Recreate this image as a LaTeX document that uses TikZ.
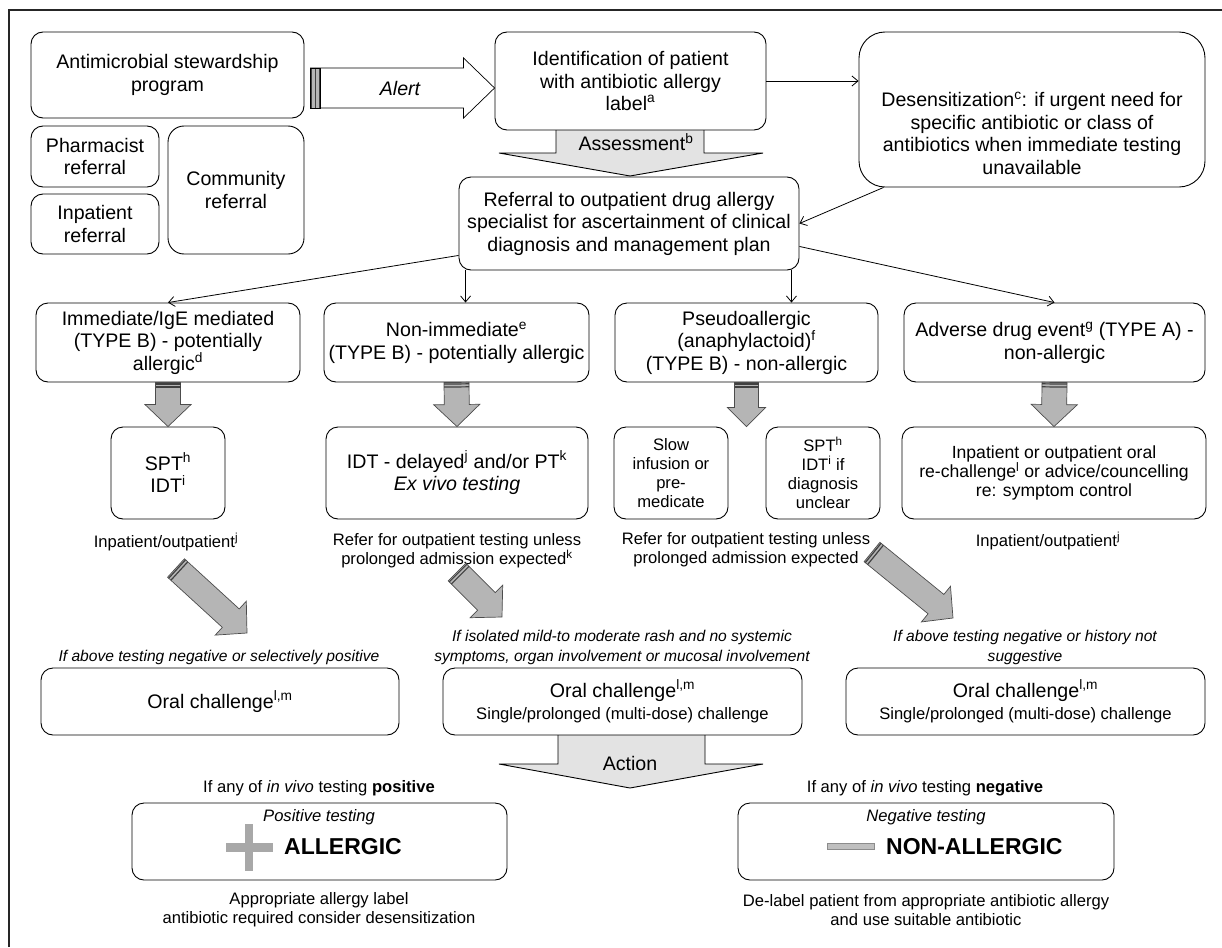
\documentclass[tikz,border=0pt]{standalone}
\usepackage{fontspec}
\setmainfont{Liberation Sans}
\usetikzlibrary{calc,arrows.meta}
\definecolor{arrgray}{HTML}{B5B5B5}
\definecolor{lightfill}{HTML}{E3E3E3}
\definecolor{signgray}{HTML}{A8A8A8}
\newcommand\mainsz{\fontsize{19.6}{22.5}\selectfont}
\newcommand\secsz{\fontsize{16.6}{19}\selectfont}
\newcommand\midsz{\fontsize{17.6}{19}\selectfont}
\newcommand\itsz{\fontsize{15.6}{20}\selectfont\itshape}
\newcommand\bigbf{\fontsize{23}{26}\selectfont\bfseries}
% fat block arrow: [style]{from}{to}{half shaft}{half head}{head length}
\newcommand\fatarr[6][]{%
  \coordinate (fa1) at (#2); \coordinate (fa2) at (#3);
  \coordinate (fac) at ($(fa2)!#6!(fa1)$);
  \filldraw[fatarrow,#1] ($(fa1)!#4!90:(fa2)$) -- ($(fac)!#4!90:(fa2)$) -- ($(fac)!#5!90:(fa2)$) -- (fa2)
     -- ($(fac)!#5!-90:(fa2)$) -- ($(fac)!#4!-90:(fa2)$) -- ($(fa1)!#4!-90:(fa2)$) -- cycle;
}
% stripes across the tail: {from}{to}{half shaft}{list of distances}
\newcommand\tailstripes[4]{%
  \coordinate (ts1) at (#1); \coordinate (ts2) at (#2);
  \foreach \d in {#4} {
    \coordinate (tsp) at ($(ts1)!\d pt!(ts2)$);
    \draw[stripe] ($(tsp)!#3!90:(ts2)$) -- ($(tsp)!#3!-90:(ts2)$);
  }
}
\begin{document}
\begin{tikzpicture}[x=1pt,y=-1pt,
  box/.style={draw=black, line width=0.9pt, rounded corners=12pt, align=center, inner sep=0pt, font=\mainsz},
  sz/.style 2 args={minimum width=#1pt, minimum height=#2pt},
  conn/.style={line width=0.8pt, -{Straight Barb[length=6pt,width=10pt]}},
  txt/.style={align=center, inner sep=0pt},
  fatarrow/.style={fill=arrgray, draw=black!70, line width=0.7pt, line join=miter},
  stripe/.style={draw=black!75, line width=1.2pt},
  bigarrow/.style={fill=lightfill, draw=black, line width=0.9pt, line join=miter}]
\useasboundingbox (0,0) rectangle (1222,947);
\draw[line width=1.8pt, black!85] (9,947) -- (9,10) -- (1222,10);

% big light block arrows
\filldraw[bigarrow] (556,130) -- (556,153) -- (499,153) -- (630,176) -- (763,153) -- (704,153) -- (704,130);
\filldraw[bigarrow] (558,735) -- (558,764) -- (499,764) -- (630,788) -- (763,764) -- (705,764) -- (705,735);

% top row
\node[box, sz={273}{86}] (amsp) at (167.5,75) {Antimicrobial stewardship\\program};
\node[box, sz={128}{61}] (pharm) at (95,156.5) {Pharmacist\\referral};
\node[box, sz={128}{60}] (inpref) at (95,224) {Inpatient\\referral};
\node[box, sz={136}{128}, rounded corners=16pt] (comm) at (236,190) {Community\\referral};
\node[box, sz={271}{98}] (ident) at (630.5,81) {Identification of patient\\with antibiotic allergy\\label\textsuperscript{a}};
\node[box, sz={346}{155}, rounded corners=26pt] (desens) at (1032,109.5) {};
\node[txt, font=\mainsz] (desenstxt) at (1032,133) {Desensitization\textsuperscript{c}: if urgent need for\\specific antibiotic or class of\\antibiotics when immediate testing\\unavailable};
\node[txt, font=\mainsz] (assess) at (636,142) {Assessment\textsuperscript{b}};
\node[box, sz={340}{93}] (ref) at (629,223.5) {Referral to outpatient drug allergy\\specialist for ascertainment of clinical\\diagnosis and management plan};

% alert block arrow
\coordinate (alA) at ($(amsp.east)+(6,13)$);
\coordinate (alB) at (alA -| ident.west);
\fatarr[fill=white, draw=black]{alA}{alB}{20pt}{30pt}{31pt}
\fill[arrgray] ($(alA)+(0,-20)$) rectangle ($(alA)+(10,20)$);
\tailstripes{alA}{alB}{20pt}{1,5,9}
\draw[line width=0.7pt] ($(alA)+(0,-20)$) rectangle ($(alA)+(10,20)$);
\node[txt, font=\mainsz\itshape] (alert) at (400,88) {Alert};

% categories
\node[box, sz={264}{79}] (imm) at (168,342.5) {Immediate/IgE mediated\\(TYPE B) - potentially\\allergic\textsuperscript{d}};
\node[box, sz={265}{79}] (nonimm) at (456.5,342.5) {Non-immediate\textsuperscript{e}\\(TYPE B) - potentially allergic};
\node[box, sz={263}{79}] (pseudo) at (746.5,342.5) {Pseudoallergic\\(anaphylactoid)\textsuperscript{f}\\(TYPE B) - non-allergic};
\node[box, sz={301}{79}] (adv) at (1054.5,342.5) {Adverse drug event\textsuperscript{g} (TYPE A) -\\non-allergic};

% thin connectors
\draw[conn] (ident.east) -- (ident.east -| desens.west);
\draw[conn] ($(desens.south west)+(25,0)$) -- (ref.east);
\draw[conn] ($(ref.south west)+(0,-15)$) -- (imm.north);
\coordinate (r1) at ($(ref.south west)+(7,0)$);
\draw[conn] (r1) -- (r1 |- nonimm.north);
\coordinate (r2) at ($(ref.south east)+(-8,0)$);
\draw[conn] (r2) -- (r2 |- pseudo.north);
\draw[conn] ($(ref.south east)+(0,-24)$) -- (adv.north);

% tests
\node[box, sz={114}{92}] (spt) at (168,473) {SPT\textsuperscript{h}\\IDT\textsuperscript{i}};
\node[box, sz={262}{92}] (idt) at (457,473) {IDT - delayed\textsuperscript{j} and/or PT\textsuperscript{k}\\\textit{Ex vivo testing}};
\node[box, sz={114}{92}, font=\secsz] (slow) at (671,473) {Slow\\infusion or\\pre-\\medicate};
\node[box, sz={114}{92}, font=\secsz] (sptidt) at (823,473) {SPT\textsuperscript{h}\\IDT\textsuperscript{i} if\\diagnosis\\unclear};
\node[box, sz={304}{92}, font=\midsz] (inp) at (1054,473) {Inpatient or outpatient oral\\re-challenge\textsuperscript{l} or advice/councelling\\re: symptom control};

\fatarr{imm.south}{spt.north}{12.5pt}{23pt}{22pt}
\tailstripes{imm.south}{spt.north}{12.5pt}{1.5,4.5}
\fatarr{nonimm.south}{idt.north}{12.5pt}{23pt}{22pt}
\tailstripes{nonimm.south}{idt.north}{12.5pt}{1.5,4.5}
\fatarr{pseudo.south}{pseudo.south |- slow.north}{12pt}{19pt}{19pt}
\tailstripes{pseudo.south}{pseudo.south |- slow.north}{12pt}{1.5,4.5}
\fatarr{adv.south}{inp.north}{12.5pt}{23pt}{22pt}
\tailstripes{adv.south}{inp.north}{12.5pt}{1.5,4.5}

% captions
\node[txt, font=\secsz] (cap1) at (166,542) {Inpatient/outpatient\textsuperscript{j}};
\node[txt, font=\secsz] (cap2) at (457,551) {Refer for outpatient testing unless\\prolonged admission expected\textsuperscript{k}};
\node[txt, font=\secsz] (cap3) at (746,550) {Refer for outpatient testing unless\\prolonged admission expected};
\node[txt, font=\secsz] (cap4) at (1048,541) {Inpatient/outpatient\textsuperscript{j}};

% diagonal arrows
\coordinate (d1s) at (176,568); \coordinate (d1e) at (247,633);
\coordinate (d2s) at (457,572); \coordinate (d2e) at (502,617);
\coordinate (d3s) at (872,552); \coordinate (d3e) at (953,618);
\fatarr{d1s}{d1e}{12.5pt}{23pt}{22pt}
\tailstripes{d1s}{d1e}{12.5pt}{1.5,4.5}
\fatarr{d2s}{d2e}{12.5pt}{23pt}{22pt}
\tailstripes{d2s}{d2e}{12.5pt}{1.5,4.5}
\fatarr{d3s}{d3e}{12.5pt}{23pt}{22pt}
\tailstripes{d3s}{d3e}{12.5pt}{1.5,4.5}

% conditions
\node[txt, font=\itsz] (cond1) at (219,657) {If above testing negative or selectively positive};
\node[txt, font=\itsz] (cond2) at (622,647) {If isolated mild-to moderate rash and no systemic\\symptoms, organ involvement or mucosal involvement};
\node[txt, font=\itsz] (cond3) at (1025,647) {If above testing negative or history not\\suggestive};

% oral challenges
\node[box, sz={358}{67}] (oral1) at (220,701.5) {Oral challenge\textsuperscript{l,m}};
\node[box, sz={359}{67}] (oral2) at (622.5,701.5) {Oral challenge\textsuperscript{l,m}\\{\secsz Single/prolonged (multi-dose) challenge}};
\node[box, sz={359}{67}] (oral3) at (1025.5,701.5) {Oral challenge\textsuperscript{l,m}\\{\secsz Single/prolonged (multi-dose) challenge}};
\node[txt, font=\mainsz] (action) at (630,763) {Action};

% outcomes
\node[txt, font=\secsz] (poscap) at (319,788) {If any of \textit{in vivo} testing \textbf{positive}};
\node[txt, font=\secsz] (negcap) at (925,788) {If any of \textit{in vivo} testing \textbf{negative}};
\node[box, sz={375}{77}] (posbox) at (319.5,841.5) {};
\node[box, sz={376}{77}] (negbox) at (926,841.5) {};
\node[txt, font=\secsz\itshape] (postest) at (319,817) {Positive testing};
\node[txt, font=\secsz\itshape] (negtest) at (926,817) {Negative testing};
\fill[signgray] (245,824) rectangle (253,871);
\fill[signgray] (226,843) rectangle (273,852);
\node[txt, font=\bigbf, anchor=west] (allergic) at (284,847) {ALLERGIC};
\filldraw[fill=black!25, draw=black!45, line width=0.5pt] (827,843) rectangle (874,849);
\node[txt, font=\bigbf, anchor=west] (nonallergic) at (886,847) {NON-ALLERGIC};
\node[txt, font=\secsz] (posfoot) at (319,910) {Appropriate allergy label\\antibiotic required consider desensitization};
\node[txt, font=\secsz] (negfoot) at (926,910) {De-label patient from appropriate antibiotic allergy\\and use suitable antibiotic};
\end{tikzpicture}
\end{document}
